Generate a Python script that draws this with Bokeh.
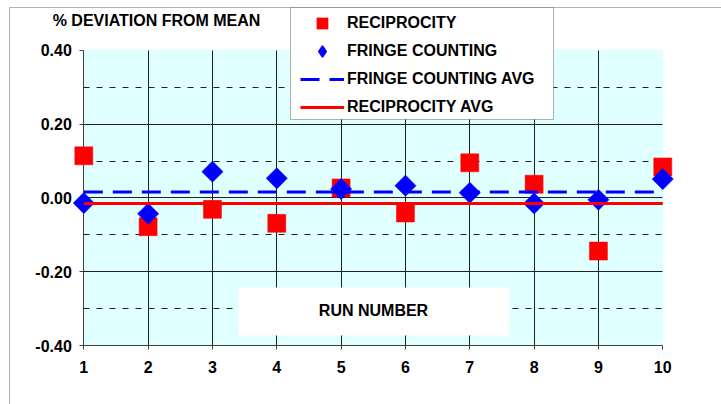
import numpy as np
from bokeh.plotting import figure
from bokeh.models import (Range1d, FixedTicker, NumeralTickFormatter, BoxAnnotation,
                          Label, Legend, LegendItem, Grid, LinearAxis)
from bokeh.embed import file_html
from bokeh.resources import INLINE

# ---------------- data ----------------
runs = [1, 2, 3, 4, 5, 6, 7, 8, 9, 10]
reciprocity = [0.114, -0.078, -0.031, -0.069, 0.027, -0.041, 0.095, 0.037, -0.144, 0.084]
fringe_counting = [-0.014, -0.043, 0.071, 0.053, 0.024, 0.033, 0.014, -0.015, -0.005, 0.051]
fringe_avg = [0.016, 0.016, 0.016, 0.016, 0.016, 0.016, 0.016, 0.016, 0.016, 0.016]
reciprocity_avg = [-0.015, -0.015, -0.015, -0.015, -0.015, -0.015, -0.015, -0.015, -0.015, -0.015]
x_ticks = [1, 2, 3, 4, 5, 6, 7, 8, 9, 10]
y_ticks = [-0.4, -0.2, 0.0, 0.2, 0.4]
y_minor = [-0.3, -0.1, 0.1, 0.3]
series_labels = ["RECIPROCITY", "FRINGE COUNTING", "FRINGE COUNTING AVG", "RECIPROCITY AVG"]

# ---------------- layout helpers (pixel -> data) ----------------
W, H = 721, 404
PX_X1, PX_PER_X = 83.3, 64.33
PY_Y0, PX_PER_Y = 197.4, 369.0


def dx(px):
    return 1 + (px - PX_X1) / PX_PER_X


def dy(py):
    return (PY_Y0 - py) / PX_PER_Y


FONT = "Liberation Sans"
RED = "#FF0000"
BLUE = "#0000FF"

p = figure(width=W, height=H, x_range=Range1d(dx(0), dx(W)), y_range=Range1d(dy(H), dy(0)),
           output_backend="svg", toolbar_location=None, min_border=0,
           x_axis_type=None, y_axis_type=None,
           background_fill_color="white", border_fill_color="white", outline_line_color=None)

# plot area background
p.add_layout(BoxAnnotation(left=1, right=10, bottom=-0.4, top=0.4, fill_color="#E0FFFF", fill_alpha=1,
                           line_color="#B8F2F2", line_width=1, level="image"))

# grids
gx = Grid(dimension=0, ticker=FixedTicker(ticks=x_ticks[1:-1]), cross_bounds=(-0.4, 0.4),
          grid_line_color="#202020", grid_line_width=1)
gy = Grid(dimension=1, ticker=FixedTicker(ticks=y_ticks[1:-1]), cross_bounds=(1, 10),
          grid_line_color="#202020", grid_line_width=1)
gym = Grid(dimension=1, ticker=FixedTicker(ticks=y_minor), cross_bounds=(1, 10),
           grid_line_color="#202020", grid_line_width=1, grid_line_dash="6 7")
p.add_layout(gx)
p.add_layout(gy)
p.add_layout(gym)

# axes
axis_style = dict(major_tick_in=0, major_tick_out=4, minor_tick_in=0, minor_tick_out=0,
                  axis_line_color="#404040", major_tick_line_color="#404040",
                  major_label_text_font=FONT, major_label_text_font_style="bold",
                  major_label_text_font_size="16px", major_label_text_color="black")
ya = LinearAxis(fixed_location=1, bounds=(-0.4, 0.4), ticker=FixedTicker(ticks=y_ticks),
                formatter=NumeralTickFormatter(format="0.00"), major_label_standoff=8, **axis_style)
xa = LinearAxis(fixed_location=-0.4, bounds=(1, 10), ticker=FixedTicker(ticks=x_ticks),
                major_label_standoff=11, **axis_style)
ya.level = "underlay"
xa.level = "underlay"
p.add_layout(ya, "left")
p.add_layout(xa, "below")

# series
r1 = p.scatter(runs, reciprocity, marker="square", size=18, fill_color=RED, line_color=RED, line_width=0.5)
r2 = p.scatter(runs, fringe_counting, marker="square", angle=np.pi / 4, size=15,
               fill_color=BLUE, line_color=BLUE, line_width=0.5)
r3 = p.line(runs, fringe_avg, line_color=BLUE, line_width=3, line_dash="19 10")
r4 = p.line(runs, reciprocity_avg, line_color=RED, line_width=3)
# legend swatch for the diamond series (the legend does not rotate markers); not drawn in the plot
r2_key = p.scatter(x=[np.nan], y=[np.nan], marker="diamond", size=15,
                   fill_color=BLUE, line_color=BLUE, line_width=1.5)

# "RUN NUMBER" box
p.add_layout(BoxAnnotation(left=dx(238), right=dx(509), top=dy(287), bottom=dy(335),
                           fill_color="white", fill_alpha=1, line_alpha=0))
p.add_layout(Label(x=dx(373), y=dy(310), text="RUN NUMBER", text_align="center", text_baseline="middle",
                   text_font=FONT, text_font_style="bold", text_font_size="16px", text_color="black"))

# title text
p.add_layout(Label(x=dx(156), y=dy(20), text="% DEVIATION FROM MEAN", text_align="center",
                   text_baseline="middle", text_font=FONT, text_font_style="bold",
                   text_font_size="16px", text_color="black"))

# outer border
p.add_layout(BoxAnnotation(left=dx(9), right=dx(740), top=dy(7), bottom=dy(430),
                           fill_alpha=0, line_color="black", line_width=1))

# legend box
p.add_layout(BoxAnnotation(left=dx(290), right=dx(553), top=dy(7), bottom=dy(119),
                           fill_color="white", fill_alpha=1, line_color="black", line_width=1))

legend = Legend(items=[LegendItem(label=series_labels[0], renderers=[r1]),
                       LegendItem(label=series_labels[1], renderers=[r2_key]),
                       LegendItem(label=series_labels[2], renderers=[r3]),
                       LegendItem(label=series_labels[3], renderers=[r4])],
                location=(300, 283), orientation="vertical",
                glyph_width=44, glyph_height=28, label_height=28, spacing=0, padding=0, margin=0,
                label_standoff=3, label_text_font=FONT, label_text_font_style="bold",
                label_text_font_size="16px", label_text_color="black",
                border_line_alpha=0, background_fill_alpha=0)
p.add_layout(legend)

open("out.html", "w").write(file_html(p, INLINE))
